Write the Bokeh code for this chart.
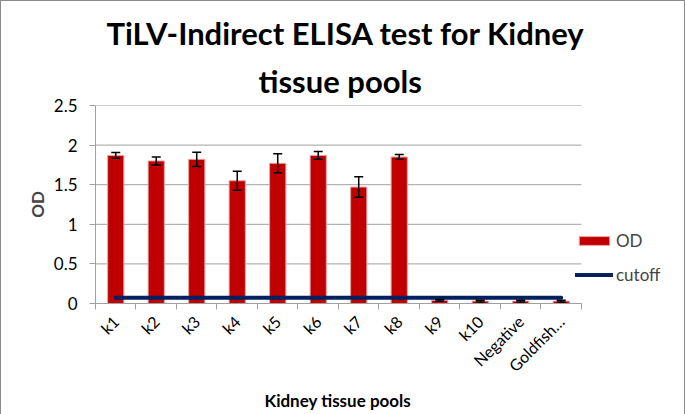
from bokeh.plotting import figure
from bokeh.models import (Range1d, FixedTicker, Whisker, TeeHead, ColumnDataSource,
                          Legend, LegendItem, Title)
from bokeh.embed import file_html
from bokeh.resources import INLINE
import math

categories = ["k1", "k2", "k3", "k4", "k5", "k6", "k7", "k8", "k9", "k10", "Negative", "Goldfish…"]
od_values = [1.87, 1.80, 1.82, 1.55, 1.77, 1.87, 1.47, 1.85, 0.04, 0.03, 0.03, 0.03]
od_errors = [0.035, 0.05, 0.09, 0.12, 0.12, 0.05, 0.13, 0.03, 0.01, 0.01, 0.01, 0.01]
cutoff_values = [0.072] * 12
y_ticks = [0, 0.5, 1, 1.5, 2, 2.5]
y_tick_labels = ["0", "0.5", "1", "1.5", "2", "2.5"]
title_lines = ["TiLV-Indirect ELISA test for Kidney", "tissue pools"]
x_axis_title = "Kidney tissue  pools"
y_axis_title = "OD"

n = len(categories)
xs = [i + 0.5 for i in range(n)]
src = ColumnDataSource(dict(
    x=xs, od=od_values,
    lo=[v - e for v, e in zip(od_values, od_errors)],
    hi=[v + e for v, e in zip(od_values, od_errors)],
    cut=cutoff_values,
))

FONT = "Lato"
LEGEND_SPACE = 2.52  # extra x-range room (in category units) for the legend

p = figure(frame_width=588, frame_height=198, output_backend="svg", toolbar_location=None,
           title=None, x_range=Range1d(0, n + LEGEND_SPACE), y_range=Range1d(0, 2.5),
           min_border_left=94, min_border_right=1, min_border_top=104, min_border_bottom=110)
p.styles = {"border": "1px solid #8c8c8c"}

for txt, off, so in [(title_lines[1], 163, 11), (title_lines[0], 11, 6)]:
    p.add_layout(Title(text=txt, align="left", text_font=FONT, text_font_style="bold",
                       text_font_size="31px", text_color="black", offset=off, standoff=so), "above")

p.outline_line_color = None
p.background_fill_color = "white"
p.xgrid.grid_line_color = None
p.ygrid.grid_line_color = None

# horizontal gridlines limited to the category span
p.segment(x0=[0] * len(y_ticks), x1=[n] * len(y_ticks), y0=y_ticks, y1=y_ticks,
          line_color="#a0a0a0", line_width=1)

bars = p.vbar(x="x", top="od", width=0.4, source=src, fill_color="#C00000",
              line_color="#e8a0a0", line_width=1)
line = p.line(x="x", y="cut", source=src, line_color="#002060", line_width=4, line_cap="round")
w = Whisker(base="x", lower="lo", upper="hi", source=src, line_color="black", line_width=1.5,
            upper_head=TeeHead(size=9, line_color="black", line_width=1.5),
            lower_head=TeeHead(size=9, line_color="black", line_width=1.5), level="overlay")
p.add_layout(w)

# axes
p.xaxis.bounds = (0, n)
p.xaxis.ticker = FixedTicker(ticks=xs, minor_ticks=list(range(n + 1)))
p.xaxis.major_label_overrides = {x: c for x, c in zip(xs, categories)}
p.xaxis.major_label_orientation = math.pi / 4
p.xaxis.major_tick_line_color = None
p.xaxis.major_tick_out = 6
p.xaxis.major_tick_in = 0
p.xaxis.minor_tick_line_color = "#a0a0a0"
p.xaxis.minor_tick_in = 0
p.xaxis.minor_tick_out = 6
p.xaxis.major_label_standoff = 9
p.xaxis.axis_line_color = "#a0a0a0"
p.xaxis.major_label_text_font = FONT
p.xaxis.major_label_text_font_size = "16px"
p.xaxis.major_label_text_color = "black"

# x-axis title, centred under the category span (not under the legend area)
p.add_layout(Title(text=x_axis_title, align="left", text_font=FONT, text_font_style="bold",
                   text_font_size="17px", text_color="black", offset=169, standoff=7), "below")

p.yaxis.ticker = FixedTicker(ticks=y_ticks)
p.yaxis.major_label_overrides = {t: l for t, l in zip(y_ticks, y_tick_labels)}
p.yaxis.minor_tick_line_color = None
p.yaxis.major_tick_line_color = "#a0a0a0"
p.yaxis.major_tick_in = 0
p.yaxis.major_tick_out = 6
p.yaxis.major_label_standoff = 12
p.yaxis.axis_line_color = "#a0a0a0"
p.yaxis.major_label_text_font = FONT
p.yaxis.major_label_text_font_size = "17px"
p.yaxis.major_label_text_color = "black"
p.yaxis.axis_label = y_axis_title
p.yaxis.axis_label_text_font = FONT
p.yaxis.axis_label_text_font_style = "bold"
p.yaxis.axis_label_text_font_size = "17px"
p.yaxis.axis_label_standoff = 3

legend = Legend(items=[LegendItem(label="OD", renderers=[bars]),
                       LegendItem(label="cutoff", renderers=[line])],
                location=(480, 18), orientation="vertical",
                background_fill_alpha=0, border_line_color=None,
                padding=0, margin=0, spacing=13,
                glyph_width=38, glyph_height=11, label_height=20,
                label_text_font=FONT, label_text_font_size="17px", label_standoff=3)
p.add_layout(legend, "center")

open("out.html", "w").write(file_html(p, INLINE))
